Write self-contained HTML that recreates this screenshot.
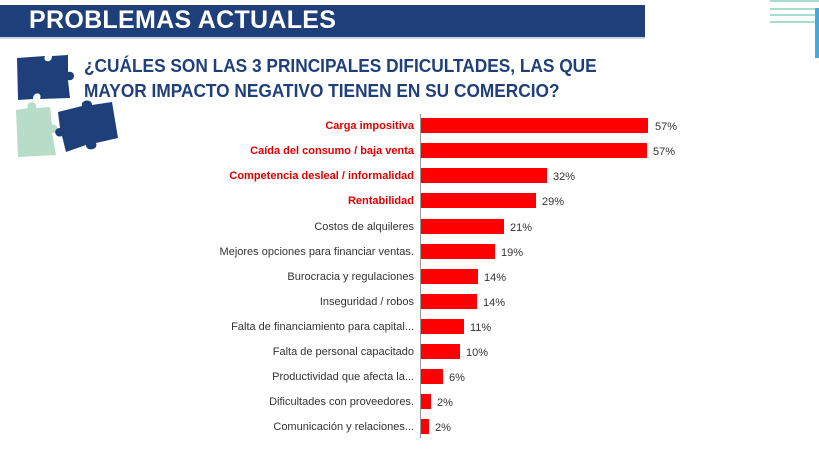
<!DOCTYPE html>
<html><head><meta charset="utf-8"><style>
body{margin:0;width:819px;height:460px;background:#fff;position:relative;overflow:hidden;font-family:"Liberation Sans",sans-serif}
.ttl{position:absolute;left:0;top:5px;width:645px;height:32px;background:#1F3F7A;border-bottom:2px solid #c9d3e3}
.ttl span{position:absolute;left:29px;top:1px;color:#fff;font-weight:bold;font-size:25px;letter-spacing:0.3px}
.sub{position:absolute;left:84px;top:54px;color:#1F3F7A;font-weight:bold;font-size:18px;line-height:25px;transform:scaleX(0.96);transform-origin:left;white-space:nowrap}
.lab{position:absolute;right:405px;font-size:11px;color:#333;white-space:nowrap;line-height:14px}
.lab.r{color:#e00000;font-weight:bold}
.bar{position:absolute;left:421px;height:15px;background:#ff0000}
.val{position:absolute;font-size:11px;color:#333;line-height:14px}
</style></head><body>
<div class="ttl"><span>PROBLEMAS ACTUALES</span></div>
<div style="position:absolute;left:770px;top:0;width:49px;height:2px;background:#a8dccf"></div>
<div style="position:absolute;left:770px;top:8px;width:49px;height:2px;background:#a8dccf"></div>
<div style="position:absolute;left:770px;top:14px;width:49px;height:2px;background:#a8dccf"></div>
<div style="position:absolute;left:770px;top:21px;width:49px;height:2px;background:#a8dccf"></div>
<div style="position:absolute;left:815px;top:8px;width:4px;height:50px;background:#4aa8d8"></div>
<div class="sub">¿CUÁLES SON LAS 3 PRINCIPALES DIFICULTADES, LAS QUE<br>MAYOR IMPACTO NEGATIVO TIENEN EN SU COMERCIO?</div>
<svg style="position:absolute;left:0;top:0" width="130" height="165">
<path d="M17,58 L45,56 C42,62 52,64 52,56 L68,55 L68,72 C76,70 76,82 68,80 L70,98 L40,99 C43,92 33,91 33,99 L18,100 Z" fill="#1F3F7A"/>
<path d="M16,110 L28,108 C25,101 38,100 36,108 L50,107 L52,125 C59,123 60,134 52,133 L56,155 L18,157 Z" fill="#b7dcc8"/>
<path d="M58,112 L82,106 C80,100 92,98 92,105 L112,102 L118,138 L96,143 C99,150 86,152 86,145 L66,152 L62,136 C55,139 52,128 60,128 Z" fill="#1F3F7A"/>
</svg>
<div style="position:absolute;left:420px;top:114px;width:1px;height:324px;background:#999"></div>
<div class="lab r" style="top:119px">Carga impositiva</div><div class="bar" style="top:118px;width:227px"></div><div class="val" style="left:655px;top:120px">57%</div>
<div class="lab r" style="top:144px">Caída del consumo / baja venta</div><div class="bar" style="top:143px;width:226px"></div><div class="val" style="left:653px;top:145px">57%</div>
<div class="lab r" style="top:169px">Competencia desleal / informalidad</div><div class="bar" style="top:168px;width:126px"></div><div class="val" style="left:553px;top:170px">32%</div>
<div class="lab r" style="top:194px">Rentabilidad</div><div class="bar" style="top:193px;width:115px"></div><div class="val" style="left:542px;top:195px">29%</div>
<div class="lab" style="top:220px">Costos de alquileres</div><div class="bar" style="top:219px;width:83px"></div><div class="val" style="left:510px;top:221px">21%</div>
<div class="lab" style="top:245px">Mejores opciones para financiar ventas.</div><div class="bar" style="top:244px;width:74px"></div><div class="val" style="left:501px;top:246px">19%</div>
<div class="lab" style="top:270px">Burocracia y regulaciones</div><div class="bar" style="top:269px;width:57px"></div><div class="val" style="left:484px;top:271px">14%</div>
<div class="lab" style="top:295px">Inseguridad / robos</div><div class="bar" style="top:294px;width:56px"></div><div class="val" style="left:483px;top:296px">14%</div>
<div class="lab" style="top:320px">Falta de financiamiento para capital...</div><div class="bar" style="top:319px;width:43px"></div><div class="val" style="left:470px;top:321px">11%</div>
<div class="lab" style="top:345px">Falta de personal capacitado</div><div class="bar" style="top:344px;width:39px"></div><div class="val" style="left:466px;top:346px">10%</div>
<div class="lab" style="top:370px">Productividad que afecta la...</div><div class="bar" style="top:369px;width:22px"></div><div class="val" style="left:449px;top:371px">6%</div>
<div class="lab" style="top:395px">Dificultades con proveedores.</div><div class="bar" style="top:394px;width:10px"></div><div class="val" style="left:437px;top:396px">2%</div>
<div class="lab" style="top:420px">Comunicación y relaciones...</div><div class="bar" style="top:419px;width:8px"></div><div class="val" style="left:435px;top:421px">2%</div>
</body></html>
